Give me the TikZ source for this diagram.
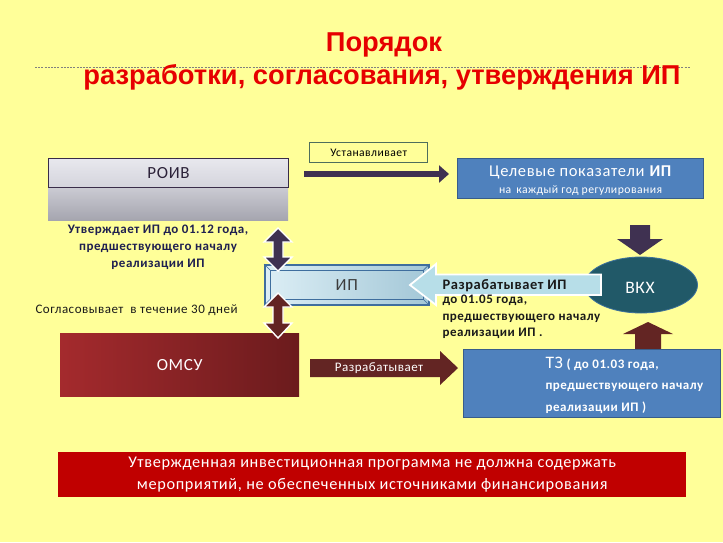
\documentclass[tikz,border=0pt]{standalone}
\usepackage{fontspec}
\setmainfont{Carlito}[LetterSpace=4]
\newfontfamily\titlefont{Liberation Sans}
\usetikzlibrary{shapes.geometric,arrows.meta,calc}
\definecolor{bg}{HTML}{FFFF99}
\definecolor{titlered}{HTML}{E60000}
\definecolor{darkpurple}{HTML}{3F3151}
\definecolor{darkred}{HTML}{632523}
\definecolor{boxblue}{HTML}{4F81BD}
\definecolor{boxblueline}{HTML}{385D8A}
\definecolor{teal}{HTML}{215968}
\definecolor{lightblue}{HTML}{B7DEE8}
\definecolor{navytext}{HTML}{1F2050}
\definecolor{darktext}{HTML}{1A1A1A}
\definecolor{ustline}{HTML}{4E6E5D}
\definecolor{roivA}{HTML}{CBCBD3}
\definecolor{roivB}{HTML}{A5A5AF}
\definecolor{roivC}{HTML}{E8E8EE}
\definecolor{roivD}{HTML}{D4D4DC}
\definecolor{ipA}{HTML}{DCEEF5}
\definecolor{ipB}{HTML}{A3C7D7}
\definecolor{ipline}{HTML}{3F6E9E}
\definecolor{omA}{HTML}{A42A2D}
\definecolor{omB}{HTML}{6B1B1D}
\definecolor{notered}{HTML}{C00000}
\tikzset{
  bluebox/.style={draw=boxblueline, line width=1.2pt, fill=boxblue, inner sep=0pt, anchor=north west},
  wtext/.style={text=white},
  outlined/.style={draw=white, line width=1.4pt, line join=miter},
}
\begin{document}
\begin{tikzpicture}[x=1pt,y=-1pt]
\fill[bg] (0,0) rectangle (723,542);
\useasboundingbox (0,0) rectangle (723,542);

% title
\node[font=\titlefont\bfseries\fontsize{27.3}{30}\selectfont, text=titlered] (t1) at (384,45) {Порядок};
\coordinate (dl) at (35,67);
\coordinate (dr) at (690,67);
\draw[gray, line width=0.5pt, dash pattern=on 2pt off 1.2pt] (dl) -- (dr);
\node[font=\titlefont\bfseries\fontsize{27.3}{30}\selectfont, text=titlered] (t2) at (382,77) {разработки, согласования, утверждения ИП};

% ROIV slab
\node[anchor=north west, minimum width=240pt, minimum height=33pt, inner sep=0pt,
      top color=roivA, bottom color=roivB] (roivbase) at (48,187) {};
\node[anchor=north west, minimum width=240pt, minimum height=29pt, inner sep=0pt,
      draw=darkpurple!90!black, line width=1pt, top color=roivC, bottom color=roivD,
      font=\fontsize{17}{18}\selectfont, text=darkpurple!70!black] (roiv) at (48,158) {\raisebox{-2pt}{РОИВ}};

% Устанавливает
\node[anchor=north west, minimum width=118pt, minimum height=20pt, inner sep=0pt,
      draw=ustline, line width=1.3pt, font=\fontsize{11.6}{13}\selectfont] (ust) at (309,142) {Устанавливает};

% target box
\node[bluebox, minimum width=246pt, minimum height=40pt] (target) at (457,158) {};
\node[wtext, anchor=base, font=\fontsize{16.5}{18}\selectfont] (tg1) at ($(target.north)+(0,18)$) {Целевые показатели \textbf{ИП}};
\node[wtext, anchor=base, font=\fontsize{11.7}{14}\selectfont] (tg2) at ($(target.north)+(0,35)$) {на\, каждый год регулирования};

% arrow ROIV -> target
\draw[darkpurple, line width=6pt, -{Triangle[length=10pt,width=17pt]}, shorten <=15pt, shorten >=8pt]
  ($(roiv.east)+(0,1)$) -- ($(target.west|-roiv.east)+(0,1)$);

% Утверждает text
\node[font=\bfseries\fontsize{13}{17}\selectfont, text=navytext, align=center] (utv) at (158,247)
  {Утверждает ИП до 01.12 года,\\ предшествующего началу\\ реализации ИП};

% Согласовывает
\node[anchor=west, font=\fontsize{13}{15}\selectfont, text=darktext] (sogl) at (32,310)
  {Согласовывает\ \ в течение 30 дней};

% IP box (bevel frame)
\node[anchor=north west, minimum width=164pt, minimum height=40pt, inner sep=0pt,
      left color=ipA, right color=ipB, draw=ipline, line width=1.6pt,
      font=\fontsize{17}{18}\selectfont, text=darktext!85] (ip) at (264,264) {ИП};
\draw[ipline, line width=0.9pt] ($(ip.north west)+(6,6)$) rectangle ($(ip.south east)+(-6,-6)$);
\draw[ipline, line width=0.7pt]
  (ip.north west) -- ($(ip.north west)+(6,6)$)
  (ip.north east) -- ($(ip.north east)+(-6,6)$)
  (ip.south west) -- ($(ip.south west)+(6,-6)$)
  (ip.south east) -- ($(ip.south east)+(-6,-6)$);

% OMSU box
\node[anchor=north west, minimum width=239pt, minimum height=63pt, inner sep=0pt,
      left color=omA, right color=omB, text=white,
      font=\fontsize{17}{18}\selectfont] (omsu) at (60,333) {ОМСУ};

% up arrow TZ -> VKH (behind TZ)
\fill[darkred] (648,322) -- (673,334) -- (661,334) -- (661,352) -- (635,352) -- (635,334) -- (623,334) -- cycle;

% TZ box
\node[bluebox, minimum width=257pt, minimum height=68pt] (tz) at (463,349) {};
\node[anchor=base west, wtext, font=\fontsize{13}{14}\selectfont\bfseries] (tz1) at (542,368)
  {{\mdseries\fontsize{17.5}{18}\selectfont ТЗ} ( до 01.03 года,};
\node[anchor=base west, wtext, font=\fontsize{13}{14}\selectfont\bfseries] (tz2) at (542,389) {предшествующего началу};
\node[anchor=base west, wtext, font=\fontsize{13}{14}\selectfont\bfseries] (tz3) at (542,411) {реализации ИП )};

% VKH
\node[ellipse, draw=boxblue!60!teal, line width=0.8pt, fill=teal, minimum width=113pt, minimum height=56pt,
      inner sep=0pt] (vkh) at (641,285) {};
\node[text=white, font=\fontsize{17.5}{18}\selectfont] (vkhtext) at (640,288) {ВКХ};

% down arrow target -> VKH
\fill[darkpurple] (640,255) -- (663,239) -- (650,239) -- (650,225) -- (630,225) -- (630,239) -- (617,239) -- cycle;

% left arrow VKH -> IP
\filldraw[fill=lightblue, outlined, line width=1.8pt] (410,285) -- (436,264) -- (436,274.5) -- (601,274.5) -- (601,295) -- (436,295) -- (436,305) -- cycle;
\node[anchor=base west, font=\bfseries\fontsize{14.5}{15}\selectfont, text=darktext] (razip) at (439,289) {Разрабатывает ИП};
\node[anchor=base west, font=\bfseries\fontsize{13}{15}\selectfont, text=darktext] (razip2) at (439,303) {до 01.05 года,};
\node[anchor=base west, font=\bfseries\fontsize{13}{15}\selectfont, text=darktext] (razip3) at (439,320) {предшествующего началу};
\node[anchor=base west, font=\bfseries\fontsize{13}{15}\selectfont, text=darktext] (razip4) at (439,336) {реализации ИП .};

% double arrows ROIV <-> IP, IP <-> OMSU
\filldraw[fill=darkpurple, outlined] (278,228) -- (292,242) -- (283,242) -- (283,257) -- (292,257) -- (278,271)
   -- (264,257) -- (273,257) -- (273,242) -- (264,242) -- cycle;
\filldraw[fill=darkred, outlined] (278,293) -- (292,307) -- (283,307) -- (283,323) -- (292,323) -- (278,338)
   -- (264,323) -- (273,323) -- (273,307) -- (264,307) -- cycle;

% Разрабатывает arrow OMSU -> TZ
\fill[darkred] (310,359) -- (440,359) -- (440,351) -- (458,368) -- (440,385) -- (440,377) -- (310,377) -- cycle;
\node[text=white, font=\fontsize{13}{14}\selectfont] (rartext) at (379,368) {Разрабатывает};

% bottom note
\node[anchor=north west, minimum width=628pt, minimum height=45pt, inner sep=0pt, fill=notered] (note) at (58,452) {};
\node[text=white, align=center, font=\fontsize{16.3}{22}\selectfont] (notetext) at (note.center)
  {Утвержденная инвестиционная программа не должна содержать\\ мероприятий, не обеспеченных источниками финансирования};
\end{tikzpicture}
\end{document}
